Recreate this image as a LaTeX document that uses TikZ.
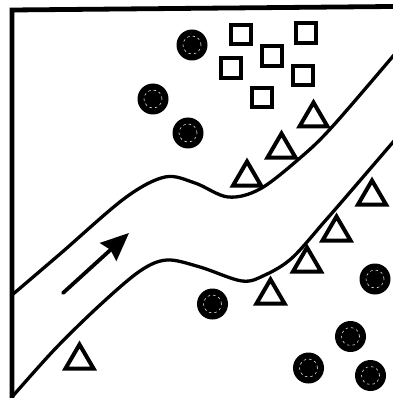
\documentclass[tikz,border=0pt]{standalone}
\usetikzlibrary{arrows.meta}
\tikzset{
  frameline/.style={line width=4.8pt, line cap=rect},
  bandline/.style={line width=3.3pt, line cap=round, line join=round},
  dot/.style={circle, fill=black, draw=none, minimum size=31pt, inner sep=0pt},
  box/.style={rectangle, draw=black, line width=4.3pt, minimum size=19.5pt, inner sep=0pt, fill=white},
  flowarrow/.style={line width=3.8pt, line cap=round, -{Stealth[length=28pt, width=24pt, inset=3pt]}},
  tri/.pic={\draw[line width=4pt, line join=miter, miter limit=3] (-14,0) -- (0,-24) -- (14,0) -- cycle;}
}
\begin{document}
\begin{tikzpicture}[x=1pt, y=-1pt]
\useasboundingbox (0,0) rectangle (392,398);
% frame
\draw[frameline] (392,6.5) -- (12,10) -- (12,400);
% band
\draw[bandline] plot[smooth, tension=0.55] coordinates {(12,295) (60,254) (125,198) (165,177) (195,183) (228,197) (260,189) (300,158) (332,127) (394,55)};
\draw[bandline] plot[smooth, tension=0.55] coordinates {(12,397) (55,349) (100,305) (140,271) (167,260) (200,267) (242,281) (265,275) (292,258) (325,221) (345,198) (394,141)};
% arrow
\coordinate (a0) at (63,293);
\coordinate (a1) at (129,233);
\draw[flowarrow] (a0) -- (a1);
% circles
\foreach \n/\x/\y in {c1/192/45, c2/153/99, c3/188/133, c4/212.5/304, c5/375/279, c6/350.5/336.5, c7/308.5/368, c8/370.5/375.5}{
  \node[dot] (\n) at (\x,\y) {};
  \draw[white!85!black, line width=0.6pt, dash pattern=on 2.5pt off 3pt] (\n.center) circle[radius=9pt];
}
% squares
\foreach \n/\x/\y in {s1/241/34.5, s2/306/33, s3/272/56, s4/231/68, s5/303/75.5, s6/262/97.5}{
  \node[box] (\n) at (\x,\y) {};
}
% triangles
\foreach \x/\y in {313.5/126.5, 281.5/157.5, 247/185.5, 372/204.5, 336.5/240.5, 307/271.5, 270.5/303.5, 79.5/368.5}{
  \pic at (\x,\y) {tri};
}
\end{tikzpicture}
\end{document}
